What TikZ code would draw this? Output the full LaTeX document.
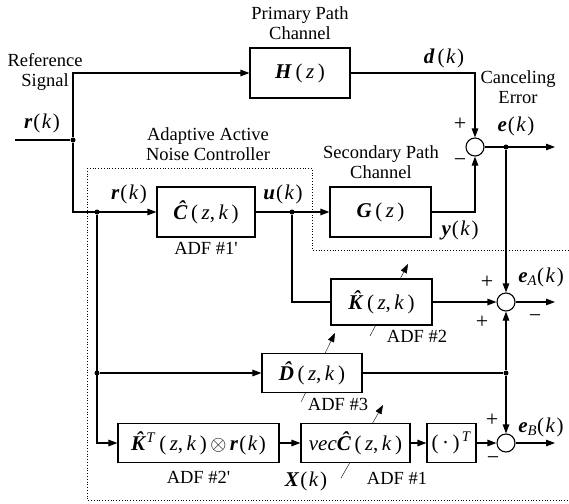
\documentclass[tikz,border=0pt]{standalone}
\usepackage{fontspec}
\setmainfont{Liberation Serif}
\usetikzlibrary{arrows.meta,positioning,backgrounds}

\newcommand{\bv}[1]{\textbf{\textit{#1}}}
\newcommand{\hbv}[1]{\textbf{\textit{\accent"02C6 #1}}}
\newcommand{\sg}[2]{\bv{#1}\kern1pt(\kern1.5pt\textit{#2}\kern1.5pt)}
\newcommand{\zk}{(\,\textit{z},\,\textit{k}\,)}
\newcommand{\lblfont}{\fontsize{18.5}{20.5}\selectfont}
\newcommand{\sigfont}{\fontsize{21}{24}\selectfont}

\begin{document}
\begin{tikzpicture}[
  x=1pt, y=-1pt, >={Triangle[length=9pt,width=6.5pt]}, line width=1.1pt,
  blk/.style={draw, fill=white, inner sep=0pt, font=\sigfont},
  sum/.style={draw, circle, fill=white, minimum size=18pt, inner sep=0pt},
  dot/.style={circle, fill, inner sep=0pt, minimum size=5pt},
  lbl/.style={align=center, font=\lblfont, inner sep=0pt},
  sig/.style={font=\sigfont, inner sep=0pt},
  pm/.style={font=\fontsize{22}{24}\selectfont, inner sep=0pt},
  ctl/.style={dotted, line width=0.8pt}
]
  \useasboundingbox (0,0) rectangle (569,503);

  % controller boundary
  \draw[ctl] (87,168) -- (312,168) -- (312,250) -- (569,250);
  \draw[ctl] (87,168) -- (87,500) -- (569,500);

  % plant and filters
  \node[blk, minimum width=100pt, minimum height=50pt] (H)  at (300,73)    {\bv{H}\,(\,\textit{z}\,)};
  \node[blk, minimum width=98pt,  minimum height=50pt] (C)  at (206,212)   {\hbv{C}\,\zk};
  \node[blk, minimum width=101pt, minimum height=50pt] (G)  at (380.5,212) {\bv{G}\,(\,\textit{z}\,)};
  \node[blk, minimum width=101pt, minimum height=46pt] (K)  at (381.5,302) {\hbv{K}\,\zk};
  \node[blk, minimum width=100pt, minimum height=39pt] (D)  at (312,373)   {\hbv{D}\,\zk};
  \node[blk, minimum width=161pt, minimum height=39pt] (KT) at (198.5,443) {\hbv{K}\textsuperscript{\textit{T}}\,\zk\,$\otimes$\,\sg{r}{k}};
  \node[blk, minimum width=109pt, minimum height=39pt] (vC) at (355.5,443) {\textit{vec}\hbv{C}\,\zk};
  \node[blk, minimum width=49pt,  minimum height=39pt] (tr) at (451.5,443) {(\,·\,)\textsuperscript{\,\textit{T}}};

  \node[sum] (s0) at (475,147) {};
  \node[sum] (sA) at (506,302) {};
  \node[sum] (sB) at (506,443) {};

  \node[dot] (j0) at (73,140)  {};
  \node[dot] (jr) at (97,212)  {};
  \node[dot] (jd) at (97,373)  {};
  \node[dot] (ju) at (292,212) {};
  \node[dot] (je) at (506,147) {};
  \node[dot] (jD) at (506,373) {};

  \coordinate (in)   at (15,140);
  \coordinate (eout) at (555,147);
  \coordinate (aout) at (555,302);
  \coordinate (bout) at (555,443);

  % signal paths
  \draw (in) -- (j0);
  \draw[->] (j0) |- (H);
  \draw[->] (j0) |- (C);
  \draw[->] (H) -| (s0);
  \draw[->] (G) -| (s0);
  \draw[->] (s0) -- (eout);
  \draw[->] (je) -- (sA);
  \draw[->] (C) -- (G);
  \draw (ju) |- (K);
  \draw[->] (K) -- (sA);
  \draw[->] (sA) -- (aout);
  \draw (D) -- (jD);
  \draw[->] (jD) -- (sA);
  \draw[->] (jD) -- (sB);
  \draw[->] (jr) |- (KT);
  \draw[->] (jd) -- (D);
  \draw[->] (KT) -- (vC);
  \draw[->] (vC) -- (tr);
  \draw[->] (tr) -- (sB);
  \draw[->] (sB) -- (bout);

  % adaption arrows
  \coordinate (K1) at (370,336); \coordinate (K2) at (408,264);
  \coordinate (D1) at (301,402); \coordinate (D2) at (335,333);
  \coordinate (C1) at (341,478); \coordinate (C2) at (383,405);
  \begin{scope}[on background layer]
    \draw[->] (K1) -- (K2);
    \draw[->] (D1) -- (D2);
    \draw[->] (C1) -- (C2);
  \end{scope}

  % labels
  \node[lbl] (lref) at (45,72)  {Reference\\Signal};
  \node[sig] (lr0)  at (42,123) {\sg{r}{k}};
  \node[lbl] (lH)   at (300,23) {Primary Path\\Channel};
  \node[sig] (ld)   at (444,58) {\bv{d}\kern3pt(\kern1.5pt\textit{k}\kern1.5pt)};
  \node[lbl] (lerr) at (518,87) {Canceling\\Error};
  \node[sig] (le)   at (516,126) {\sg{e}{k}};
  \node[pm] at (460,124) {+};
  \node[pm] at (460,163) {−};
  \node[lbl] (lG)   at (381,162) {Secondary Path\\Channel};
  \node[lbl] (lanc) at (208,144) {Adaptive Active\\Noise Controller};
  \node[sig] (lr1)  at (129,194) {\sg{r}{k}};
  \node[sig] (lu)   at (283,194) {\sg{u}{k}};
  \node[sig] (ly)   at (460,230) {\sg{y}{k}};
  \node[lbl, below=4pt of C] (aC) {ADF \#1\textquotesingle};
  \node[lbl] (aK)   at (417,336) {ADF \#2};
  \node[pm] at (487,282) {+};
  \node[pm] at (482,322) {+};
  \node[pm] at (535,319) {−};
  \node[sig] (leA)  at (541,277) {\bv{e}\textsubscript{\textit{A}}(\kern1.5pt\textit{k}\kern1.5pt)};
  \node[lbl] (aD)   at (338,404) {ADF \#3};
  \node[pm] at (492,420) {+};
  \node[sig] (leB)  at (541,427) {\bv{e}\textsubscript{\textit{B}}(\kern1.5pt\textit{k}\kern1.5pt)};
  \node[pm] at (493,461) {−};
  \node[lbl, below=8pt of KT] (aKT) {ADF \#2\textquotesingle};
  \node[sig] (lX)   at (306,481) {\sg{X}{k}};
  \node[lbl] (avC)  at (397,478) {ADF \#1};
\end{tikzpicture}
\end{document}
